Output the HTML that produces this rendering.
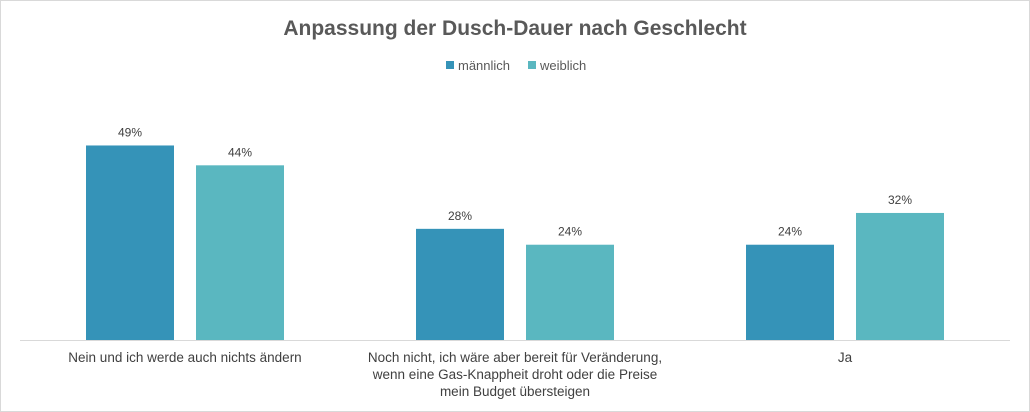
<!DOCTYPE html>
<html><head><meta charset="utf-8"><style>
body{margin:0;background:#fff}
svg{display:block;font-family:"Liberation Sans",sans-serif}
</style></head><body>
<svg width="1030" height="412" xmlns="http://www.w3.org/2000/svg">
<rect x="0.5" y="0.5" width="1029" height="411" fill="#fff" stroke="#d9d9d9"/>
<text x="515" y="35" text-anchor="middle" font-size="21" font-weight="bold" fill="#595959">Anpassung der Dusch-Dauer nach Geschlecht</text>
<g>
<rect x="446" y="61" width="8" height="8" fill="#3593b8"/>
<text x="458" y="70" font-size="13" fill="#595959">männlich</text>
<rect x="528" y="61" width="8" height="8" fill="#5ab7c0"/>
<text x="540" y="70" font-size="13" fill="#595959">weiblich</text>
</g>
<line x1="20" y1="340.5" x2="1010" y2="340.5" stroke="#d9d9d9"/>
<g id="bars"></g>
<g id="cats"></g>
</svg>
<script>
const categories=[["Nein und ich werde auch nichts ändern"],["Noch nicht, ich wäre aber bereit für Veränderung,","wenn eine Gas-Knappheit droht oder die Preise","mein Budget übersteigen"],["Ja"]];
const male=[49,28,24];
const female=[44,24,32];
const NS="http://www.w3.org/2000/svg";
const y0=340, pxPer=3.97;
const yScale=v=>y0-v*pxPer;
const xCenter=i=>185+i*330;
const bars=document.getElementById('bars'), cats=document.getElementById('cats');
function bar(v,x,color,name){
  const r=document.createElementNS(NS,'rect');
  r.setAttribute('x',x);r.setAttribute('y',yScale(v));r.setAttribute('width',88);r.setAttribute('height',y0-yScale(v));r.setAttribute('fill',color);
  
  
  bars.appendChild(r);
  const t=document.createElementNS(NS,'text');
  t.setAttribute('x',x+44);t.setAttribute('y',yScale(v)-9);t.setAttribute('text-anchor','middle');t.setAttribute('font-size','12');t.setAttribute('fill','#404040');
  t.textContent=v+'%';
  
  
  bars.appendChild(t);
}
categories.forEach((c,i)=>{
  const cx=xCenter(i);
  bar(male[i],cx-99,'#3593b8','bar-maennlich-'+i);
  bar(female[i],cx+11,'#5ab7c0','bar-weiblich-'+i);
  c.forEach((line,j)=>{
    const t=document.createElementNS(NS,'text');
    t.setAttribute('x',cx);t.setAttribute('y',362+j*17);t.setAttribute('text-anchor','middle');t.setAttribute('font-size','13.5');t.setAttribute('fill','#404040');
    t.textContent=line;
    
    
    cats.appendChild(t);
  });
});
</script>
</body></html>
